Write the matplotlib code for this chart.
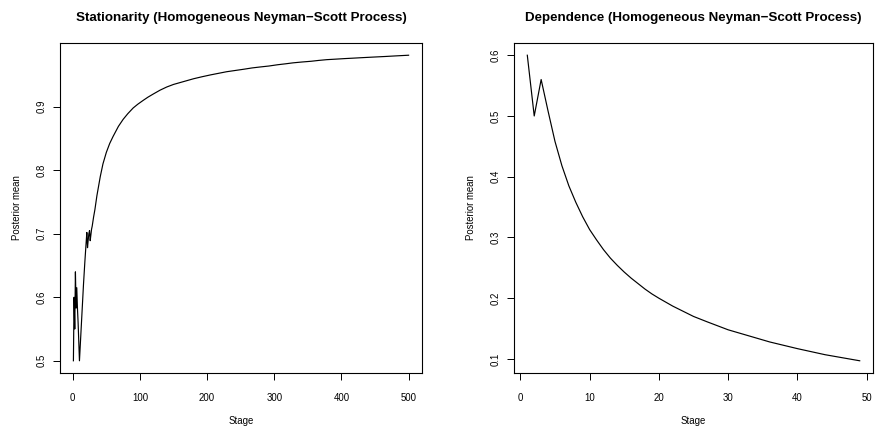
import matplotlib
matplotlib.use("Agg")
import matplotlib.pyplot as plt

# left panel: stationarity, posterior mean by stage
stat_stage = [1, 2, 3, 4, 5, 6, 7, 8, 9, 10, 12, 14, 16, 18, 20, 21, 22, 23, 24, 25, 26, 27,
              28, 29, 31, 33, 36, 41, 45, 50, 55, 60, 68, 75, 82, 90, 97, 105, 112, 120, 130,
              140, 150, 160, 170, 180, 192, 205, 217, 229, 242, 255, 267, 279, 292, 305,
              317, 328, 341, 355, 366, 378, 391, 405, 416, 428, 446, 465, 482, 500]
stat_mean = [0.5, 0.6, 0.55, 0.64, 0.583, 0.615, 0.583, 0.56, 0.53, 0.5, 0.54, 0.58, 0.62,
             0.655, 0.687, 0.702, 0.678, 0.69, 0.70, 0.705, 0.689, 0.698, 0.707, 0.712,
             0.726, 0.738, 0.76, 0.79, 0.81, 0.828, 0.842, 0.853, 0.869, 0.880, 0.889,
             0.898, 0.904, 0.910, 0.915, 0.920, 0.926, 0.931, 0.935, 0.938, 0.941, 0.944,
             0.947, 0.950, 0.9525, 0.955, 0.957, 0.959, 0.961, 0.9625, 0.964, 0.966,
             0.9675, 0.969, 0.9703, 0.9715, 0.9728, 0.974, 0.9748, 0.9757, 0.9763, 0.977,
             0.978, 0.979, 0.98, 0.981]

# right panel: dependence, posterior mean by stage
dep_stage = [1, 2, 3, 4, 5, 6, 7, 8, 9, 10, 11, 12, 13, 14, 15, 16, 17, 18, 19, 20, 22,
             25, 27, 30, 33, 36, 40, 44, 49]
dep_mean = [0.6, 0.5, 0.56, 0.508, 0.458, 0.418, 0.385, 0.358, 0.334, 0.313, 0.296, 0.28,
            0.266, 0.254, 0.243, 0.233, 0.224, 0.215, 0.207, 0.2, 0.187, 0.17, 0.161,
            0.148, 0.138, 0.128, 0.117, 0.107, 0.097]

plt.rcParams['font.family'] = ['Liberation Sans', 'DejaVu Sans']

fig = plt.figure(figsize=(8.81, 4.28), dpi=100)
ax1 = fig.add_axes([60/881, 55/428, 362/881, 330/428])
ax2 = fig.add_axes([514/881, 55/428, 359/881, 330/428])

panels = [
    (ax1, stat_stage, stat_mean, "Stationarity (Homogeneous Neyman\u2212Scott Process)",
     [0, 100, 200, 300, 400, 500], [0.5, 0.6, 0.7, 0.8, 0.9], (1, 500)),
    (ax2, dep_stage, dep_mean, "Dependence (Homogeneous Neyman\u2212Scott Process)",
     [0, 10, 20, 30, 40, 50], [0.1, 0.2, 0.3, 0.4, 0.5, 0.6], (1, 49)),
]

for ax, xs, ys, title, xt, yt, xr in panels:
    ax.plot(xs, ys, color='black', lw=0.85)
    # R style 4% padding around the data range
    dx = (xr[1] - xr[0]) * 0.04
    ax.set_xlim(xr[0] - dx, xr[1] + dx)
    dy = (max(ys) - min(ys)) * 0.04
    ax.set_ylim(min(ys) - dy, max(ys) + dy)
    ax.set_xticks(xt)
    ax.set_yticks(yt)
    ax.set_xticklabels([str(v) for v in xt])
    ax.set_yticklabels([str(v) for v in yt], rotation=90, va='center')
    ax.tick_params(direction='out', length=5, width=0.7, labelsize=6.9)
    ax.tick_params(axis='x', pad=9.5)
    ax.tick_params(axis='y', pad=4.5)
    for s in ax.spines.values():
        s.set_linewidth(0.8)
    ax.set_title(title, fontsize=9.6, fontweight='bold', pad=15.5)
    ax.set_xlabel("Stage", fontsize=6.9, labelpad=9.5)
    ax.set_ylabel("Posterior mean", fontsize=6.9, labelpad=10.5)

fig.savefig("out.png", dpi=100)
